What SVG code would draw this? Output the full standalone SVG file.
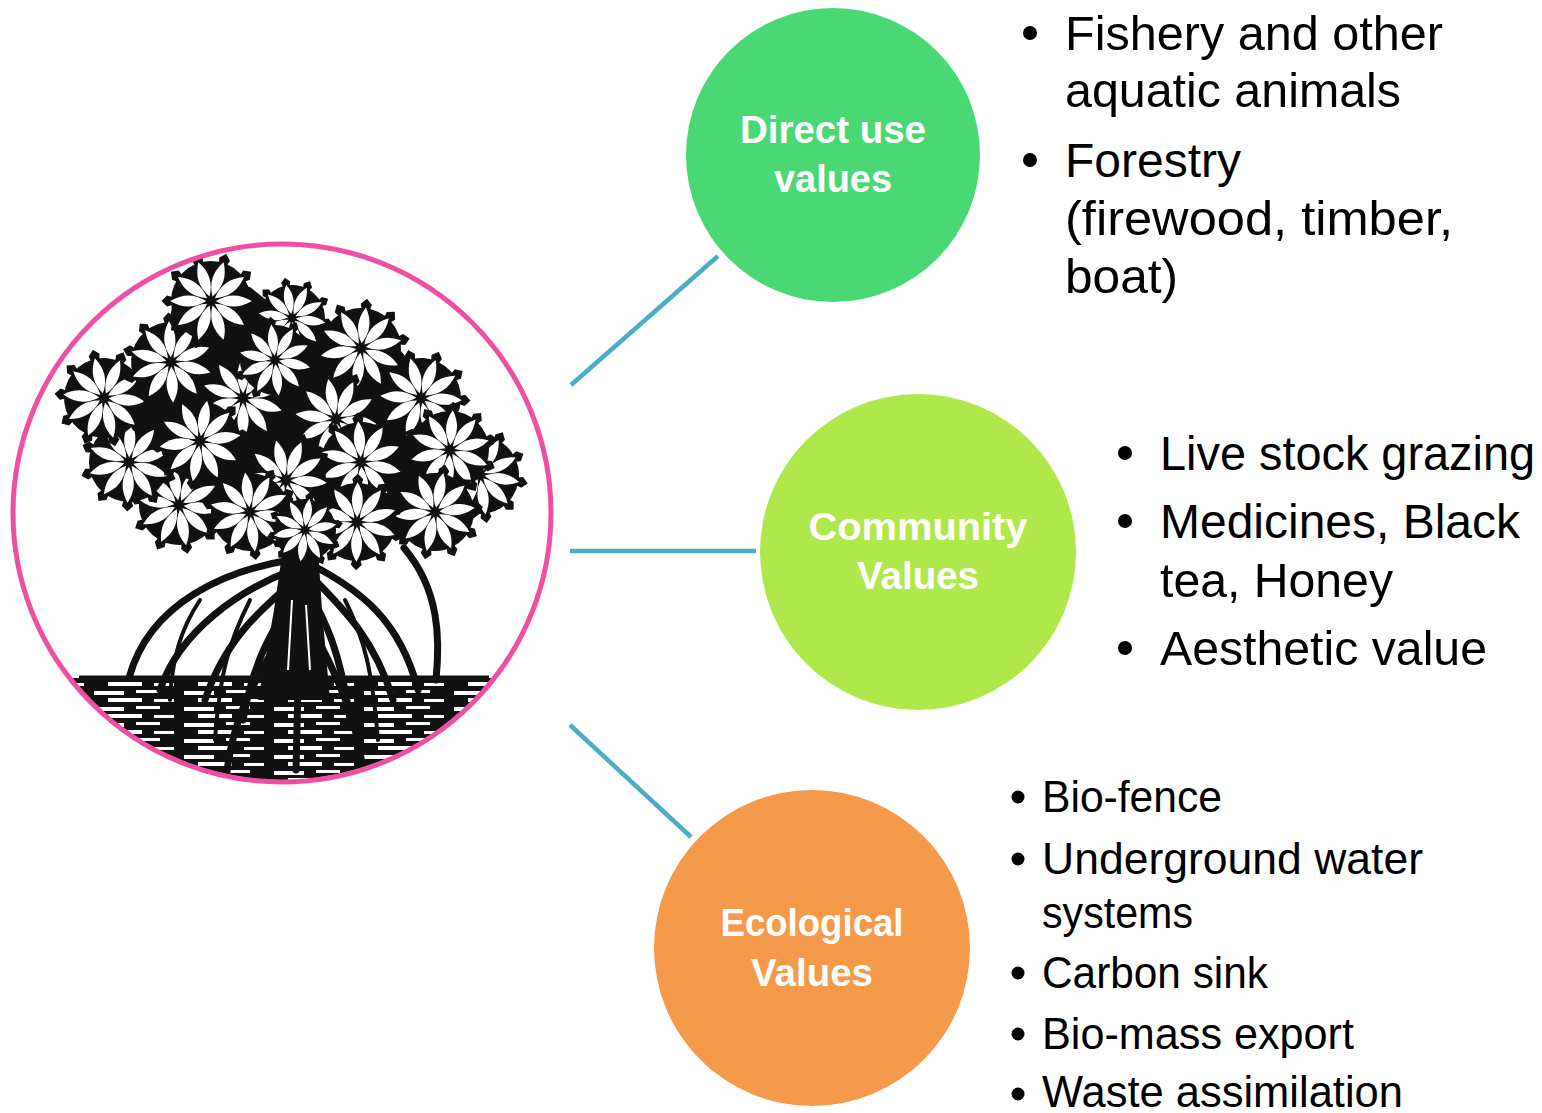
<svg xmlns="http://www.w3.org/2000/svg" xmlns:xlink="http://www.w3.org/1999/xlink" width="1542" height="1113" viewBox="0 0 1542 1113">
<style>
.lbl{font-family:"Liberation Sans",Arial,sans-serif;font-weight:bold;font-size:38px;fill:#fff;text-anchor:middle}
.b1{font-family:"Liberation Sans",Arial,sans-serif;font-size:48px;fill:#000}
.b2{font-family:"Liberation Sans",Arial,sans-serif;font-size:44px;fill:#000}
.conn{stroke:#4BACC6;stroke-width:4.5;fill:none}
.root{stroke:#111;fill:none;stroke-linecap:round}
</style>
<defs>
<clipPath id="treeclip"><circle cx="282" cy="513" r="267"/></clipPath>
<path id="lb" d="M30,0 L55,-7 L62,0 L55,7Z"/>
<path id="lw" d="M6,0 Q28,-14 51,0 Q28,14 6,0Z"/>
<g id="ros">
<circle r="50" fill="#111"/>
<g fill="#111">
<use href="#lb"/><use href="#lb" transform="rotate(36)"/><use href="#lb" transform="rotate(72)"/><use href="#lb" transform="rotate(108)"/><use href="#lb" transform="rotate(144)"/><use href="#lb" transform="rotate(180)"/><use href="#lb" transform="rotate(216)"/><use href="#lb" transform="rotate(252)"/><use href="#lb" transform="rotate(288)"/><use href="#lb" transform="rotate(324)"/>
</g>
<g fill="#fff">
<use href="#lw"/><use href="#lw" transform="rotate(36)"/><use href="#lw" transform="rotate(72)"/><use href="#lw" transform="rotate(108)"/><use href="#lw" transform="rotate(144)"/><use href="#lw" transform="rotate(180)"/><use href="#lw" transform="rotate(216)"/><use href="#lw" transform="rotate(252)"/><use href="#lw" transform="rotate(288)"/><use href="#lw" transform="rotate(324)"/>
</g>
</g>
<pattern id="water" width="90" height="16" patternUnits="userSpaceOnUse">
<rect width="90" height="16" fill="#111"/>
<rect x="4" y="3" width="30" height="4" fill="#fff"/>
<rect x="46" y="2" width="24" height="3" fill="#fff"/>
<rect x="18" y="10" width="34" height="4" fill="#fff"/>
<rect x="64" y="11" width="20" height="3" fill="#fff"/>
</pattern>
</defs>
<rect width="1542" height="1113" fill="#fff"/>

<g id="connectors">
<line class="conn" x1="571" y1="385" x2="718" y2="256"/>
<line class="conn" x1="570" y1="551" x2="756" y2="551"/>
<line class="conn" x1="570" y1="725" x2="691" y2="837"/>
</g>

<g id="tree">
<circle cx="282" cy="513" r="267" fill="#fff"/>
<g clip-path="url(#treeclip)">
<rect x="0" y="678" width="560" height="120" fill="url(#water)"/>
<line x1="79" y1="678" x2="489" y2="678" stroke="#111" stroke-width="5"/>
<path d="M283,548 L318,548 L322,610 L330,700 L258,700 L274,610Z" fill="#111"/>
<g class="root" stroke-width="7">
<path d="M290,560 C230,570 150,600 129,678"/>
<path d="M292,570 C240,590 180,630 160,690"/>
<path d="M295,580 C260,610 225,640 205,700"/>
<path d="M298,590 C280,620 255,650 243,720"/>
<path d="M312,565 C360,590 400,620 418,690"/>
<path d="M310,575 C345,610 375,640 393,700"/>
<path d="M308,590 C325,620 340,650 350,720"/>
<path d="M404,548 C440,590 440,640 436,680"/>
<path d="M300,600 L296,770"/>
<path d="M280,640 C240,700 230,740 226,780"/>
<path d="M318,640 C350,700 360,740 364,780"/>
</g>
<g class="root" stroke-width="4">
<path d="M200,600 C180,630 172,660 170,700"/>
<path d="M250,600 C230,640 220,670 215,740"/>
<path d="M345,600 C365,640 372,670 378,740"/>
</g>
<g stroke="#fff" stroke-width="2" fill="none">
<path d="M292,600 L288,670"/>
<path d="M306,605 L310,670"/>
</g>
<path d="M175,295 L210,282 L250,287 L285,315 L330,325 L370,325 L400,350 L430,385 L465,420 L495,450 L495,490 L482,512 L458,530 L420,536 L380,536 L340,545 L300,542 L260,532 L220,528 L182,522 L158,502 L125,468 L100,435 L95,402 L108,382 L135,367 L165,338Z" fill="#111"/>
<use href="#ros" transform="translate(179,505) rotate(8) scale(0.8)"/>
<use href="#ros" transform="translate(129,462) rotate(20) scale(0.8)"/>
<use href="#ros" transform="translate(104,398) rotate(5) scale(0.8)"/>
<use href="#ros" transform="translate(171,362) rotate(15) scale(0.8)"/>
<use href="#ros" transform="translate(211,301) rotate(0) scale(0.8)"/>
<use href="#ros" transform="translate(292,318) rotate(8) scale(0.66)"/>
<use href="#ros" transform="translate(361,348) rotate(25) scale(0.8)"/>
<use href="#ros" transform="translate(421,398) rotate(3) scale(0.8)"/>
<use href="#ros" transform="translate(243,398) rotate(18) scale(0.8)"/>
<use href="#ros" transform="translate(275,360) rotate(12) scale(0.7)"/>
<use href="#ros" transform="translate(336,419) rotate(7) scale(0.8)"/>
<use href="#ros" transform="translate(200,441) rotate(28) scale(0.8)"/>
<use href="#ros" transform="translate(480,475) rotate(10) scale(0.78)"/>
<use href="#ros" transform="translate(450,450) rotate(22) scale(0.78)"/>
<use href="#ros" transform="translate(361,462) rotate(14) scale(0.8)"/>
<use href="#ros" transform="translate(286,480) rotate(4) scale(0.8)"/>
<use href="#ros" transform="translate(435,512) rotate(30) scale(0.78)"/>
<use href="#ros" transform="translate(250,512) rotate(11) scale(0.78)"/>
<use href="#ros" transform="translate(357,522) rotate(19) scale(0.78)"/>
<use href="#ros" transform="translate(305,530) rotate(26) scale(0.62)"/>
</g>
<circle cx="282" cy="513" r="269" fill="none" stroke="#EF4FA2" stroke-width="5"/>
</g>

<g id="direct-use">
<circle cx="833" cy="155" r="147" fill="#4AD874"/>
<text class="lbl" x="833" y="143" textLength="186" lengthAdjust="spacingAndGlyphs">Direct use</text>
<text class="lbl" x="833" y="192" textLength="118" lengthAdjust="spacingAndGlyphs">values</text>
<g fill="#000">
<circle cx="1030" cy="33" r="7"/>
<circle cx="1030" cy="160" r="7"/>
</g>
<text class="b1" x="1065" y="50" textLength="378" lengthAdjust="spacingAndGlyphs">Fishery and other</text>
<text class="b1" x="1065" y="107" textLength="336" lengthAdjust="spacingAndGlyphs">aquatic animals</text>
<text class="b1" x="1065" y="177" textLength="176" lengthAdjust="spacingAndGlyphs">Forestry</text>
<text class="b1" x="1065" y="235" textLength="388" lengthAdjust="spacingAndGlyphs">(firewood, timber,</text>
<text class="b1" x="1065" y="293" textLength="113" lengthAdjust="spacingAndGlyphs">boat)</text>
</g>

<g id="community">
<circle cx="918" cy="552" r="158" fill="#AEE84A"/>
<text class="lbl" x="918" y="540" textLength="219" lengthAdjust="spacingAndGlyphs">Community</text>
<text class="lbl" x="918" y="589" textLength="122" lengthAdjust="spacingAndGlyphs">Values</text>
<g fill="#000">
<circle cx="1125" cy="453" r="7"/>
<circle cx="1125" cy="521" r="7"/>
<circle cx="1125" cy="648" r="7"/>
</g>
<text class="b1" x="1160" y="470" textLength="375" lengthAdjust="spacingAndGlyphs">Live stock grazing</text>
<text class="b1" x="1160" y="538" textLength="360" lengthAdjust="spacingAndGlyphs">Medicines, Black</text>
<text class="b1" x="1160" y="597" textLength="233" lengthAdjust="spacingAndGlyphs">tea, Honey</text>
<text class="b1" x="1160" y="665" textLength="327" lengthAdjust="spacingAndGlyphs">Aesthetic value</text>
</g>

<g id="ecological">
<circle cx="812" cy="948" r="158" fill="#F5994A"/>
<text class="lbl" x="812" y="936" textLength="183" lengthAdjust="spacingAndGlyphs">Ecological</text>
<text class="lbl" x="812" y="986" textLength="122" lengthAdjust="spacingAndGlyphs">Values</text>
<g fill="#000">
<circle cx="1018" cy="797" r="6.5"/>
<circle cx="1018" cy="859" r="6.5"/>
<circle cx="1018" cy="973" r="6.5"/>
<circle cx="1018" cy="1034" r="6.5"/>
<circle cx="1018" cy="1094" r="6.5"/>
</g>
<text class="b2" x="1042" y="812" textLength="180" lengthAdjust="spacingAndGlyphs">Bio-fence</text>
<text class="b2" x="1042" y="874" textLength="381" lengthAdjust="spacingAndGlyphs">Underground water</text>
<text class="b2" x="1042" y="928" textLength="151" lengthAdjust="spacingAndGlyphs">systems</text>
<text class="b2" x="1042" y="988" textLength="226" lengthAdjust="spacingAndGlyphs">Carbon sink</text>
<text class="b2" x="1042" y="1049" textLength="312" lengthAdjust="spacingAndGlyphs">Bio-mass export</text>
<text class="b2" x="1042" y="1107" textLength="361" lengthAdjust="spacingAndGlyphs">Waste assimilation</text>
</g>
</svg>
